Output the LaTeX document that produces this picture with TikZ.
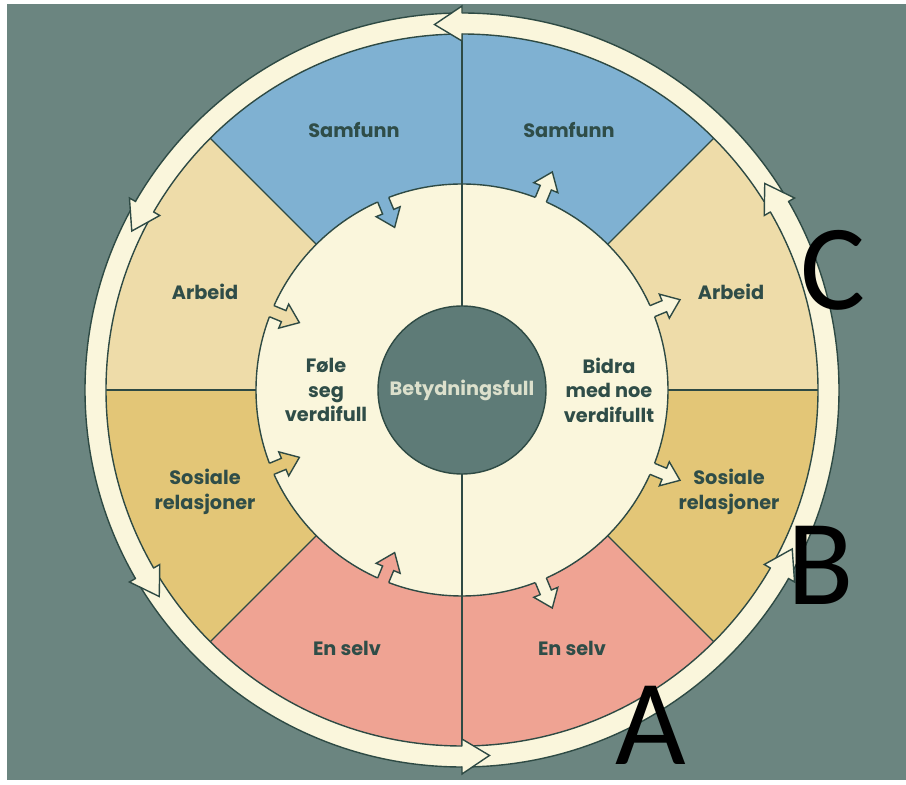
\documentclass[tikz,border=0pt]{standalone}
\usepackage{fontspec}
\setmainfont{Poppins}
\newfontfamily\calib{Carlito}
\definecolor{bg}{HTML}{6B8580}
\definecolor{samf}{HTML}{7FB1D2}
\definecolor{arb}{HTML}{EEDCA9}
\definecolor{sos}{HTML}{E3C677}
\definecolor{self}{HTML}{EFA393}
\definecolor{cream}{HTML}{FAF6DC}
\definecolor{lnc}{HTML}{2E4A44}
\definecolor{txt}{HTML}{2F4D48}
\definecolor{core}{HTML}{5E7B77}
\definecolor{coretxt}{HTML}{DCE0CC}
\tikzset{
  ln/.style={draw=lnc, line width=1.4pt, line join=miter},
  lbl/.style={text=txt, font=\bfseries\fontsize{19.3}{24.5}\selectfont, align=center, inner sep=0pt},
  bigletter/.style={text=black, font=\calib\fontsize{122}{122}\selectfont, inner sep=0pt, anchor=base, text depth=0pt, text height=78pt}
}
\newcommand\discarrow[3]{%
  \begin{scope}[shift={(#1:206)}, rotate=#2]
    \fill[#3] (-3,-6) -- (13,-6) -- (13,-13) -- (30,0) -- (13,13) -- (13,6) -- (-3,6) -- cycle;
    \draw[ln] (0,-6) -- (13,-6) -- (13,-13) -- (30,0) -- (13,13) -- (13,6) -- (0,6);
  \end{scope}}
\newcommand\ringarrow[1]{%
  \fill[cream] (#1:384) -- ({#1+4.3}:366.5) -- (#1:349) -- cycle;
  \draw[ln] (#1:376.5) -- (#1:384) -- ({#1+4.3}:366.5) -- (#1:349) -- (#1:356.5);}
\begin{document}
\begin{tikzpicture}[x=1pt,y=1pt]
\useasboundingbox (0,0) rectangle (906,785);
\fill[white] (0,0) rectangle (906,785);
\fill[bg] (7,5) rectangle (906,781);
\coordinate (O) at (462,395);
\begin{scope}[shift={(O)}]
  % sectors
  \foreach \a/\b/\c in {0/45/arb,45/90/samf,90/135/samf,135/180/arb,180/225/sos,225/270/self,270/315/self,315/360/sos}{
    \fill[\c] (0,0) -- (\a:357) arc[start angle=\a, end angle=\b, radius=357] -- cycle;}
  \foreach \a in {0,45,135,180,225,315}{
    \draw[ln] (\a:200) -- (\a:357);}
  % middle disc
  \fill[cream] (0,0) circle (206);
  \draw[ln] (90:80) -- (90:357);
  \draw[ln] (270:80) -- (270:357);
  \draw[ln] (0,0) circle (206);
  % arrows on the disc
  \discarrow{112.5}{292.5}{samf}
  \discarrow{157.5}{337.5}{arb}
  \discarrow{202.5}{22.5}{sos}
  \discarrow{247.5}{67.5}{self}
  \discarrow{67.5}{67.5}{cream}
  \discarrow{22.5}{22.5}{cream}
  \discarrow{-22.5}{-22.5}{cream}
  \discarrow{-67.5}{-67.5}{cream}
  % core
  \fill[core] (0,0) circle (84);
  \draw[ln] (0,0) circle (84);
  % outer ring
  \fill[cream, even odd rule] (0,0) circle (377) (0,0) circle (356);
  \draw[ln] (0,0) circle (377);
  \draw[ln] (0,0) circle (356);
  \foreach \p in {30,90,150,210,270,330}{\ringarrow{\p}}
\end{scope}
% labels
\node[lbl] (sl) at (354,655) {Samfunn};
\node[lbl] (sr) at (569,655) {Samfunn};
\node[lbl] (al) at (205,493) {Arbeid};
\node[lbl] (ar) at (731,493) {Arbeid};
\node[lbl] (rl) at (205,293) {Sosiale\\relasjoner};
\node[lbl] (rr) at (729,293) {Sosiale\\relasjoner};
\node[lbl] (el) at (347,137) {En selv};
\node[lbl] (er) at (572,137) {En selv};
\node[lbl] (fl) at (326,395) {Føle\\seg\\verdifull};
\node[lbl] (br) at (609,395) {Bidra\\med noe\\verdifullt};
\node[lbl, text=coretxt] (core) at (462,395) {Betydningsfull};
% letters
\node[bigletter] (lc) at (833,475) {C};
\node[bigletter] (lb) at (821,180) {B};
\node[bigletter] (la) at (651,20) {A};
\end{tikzpicture}
\end{document}
